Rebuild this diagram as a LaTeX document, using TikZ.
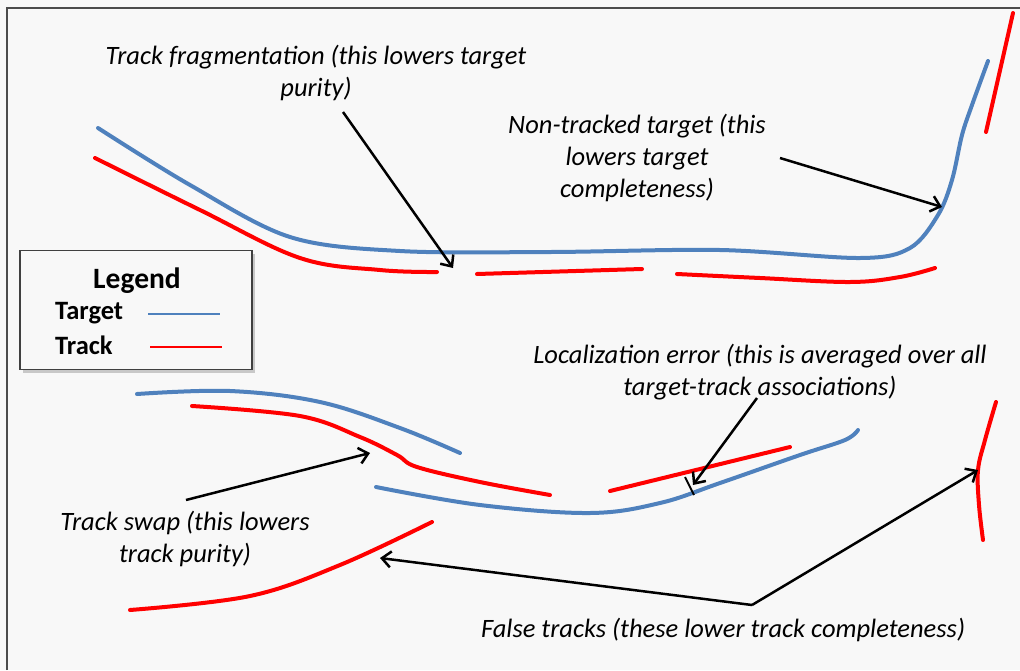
\documentclass[tikz,border=0pt]{standalone}
\usepackage{fontspec}
\setmainfont{Carlito}
\usepackage{tikz}
\usetikzlibrary{arrows.meta, positioning, shadows}
\definecolor{tgtblue}{HTML}{4F81BD}
\definecolor{trkred}{HTML}{FF0000}
\definecolor{paper}{HTML}{F8F8F8}
\tikzset{
  target/.style={draw=tgtblue, line width=4pt, line cap=round},
  track/.style={draw=trkred, line width=4pt, line cap=round},
  arrow/.style={-{Straight Barb[length=9pt, width=16pt]}, line width=2.5pt, black},
  note/.style={font=\fontsize{26.5}{32}\selectfont\itshape, align=center, inner sep=0pt},
  legendbox/.style={draw=black!75, line width=1.5pt, fill=paper,
                    drop shadow={shadow xshift=3pt, shadow yshift=-3pt, fill=black!40},
                    minimum width=232pt, minimum height=119pt},
}

\begin{document}
\begin{tikzpicture}[x=1pt, y=-1pt]

% ── 背景与边框 ────────────────────────────────────────────────────────────────
\fill[paper] (0,0) rectangle (1020,670);
\useasboundingbox (0,0) rectangle (1020,670);
\draw[black!70, line width=2pt] (7,670) -- (7,8) -- (1020,8);

% ── 上方：目标与轨迹 ──────────────────────────────────────────────────────────
\draw[target] plot[smooth, tension=0.55] coordinates {(98,128) (190,185) (290,237)
  (400,251) (550,252) (720,250) (860,258) (910,248) (938,215) (952,180)
  (962,135) (972,105) (988,61)};
\draw[track] plot[smooth, tension=0.6] coordinates {(95,158) (200,210) (300,258)
  (380,270) (437,272)};
\draw[track] (477,274) -- (642,269);
\draw[track] plot[smooth, tension=0.6] coordinates {(677,274) (760,278)
  (850,282) (900,277) (935,268)};
\draw[track] (1013,13) -- (986,132);

% ── 下方：目标与轨迹 ──────────────────────────────────────────────────────────
\draw[target] plot[smooth, tension=0.6] coordinates {(137,394) (230,391)
  (320,402) (400,428) (460,453)};
\draw[track] plot[smooth, tension=0.6] coordinates {(192,406) (300,416)
  (360,437) (397,455) (417,467) (480,482) (550,495)};
\draw[target] plot[smooth, tension=0.6] coordinates {(376,487) (480,505)
  (590,513) (660,503) (720,483) (800,455) (845,440) (858,430)};
\draw[track] (610,491) -- (790,447);
\draw[black, line width=2pt] (685,477) -- (694,495);
\draw[track] plot[smooth, tension=0.6] coordinates {(130,610) (250,596)
  (340,565) (432,522)};
\draw[track] plot[smooth, tension=0.6] coordinates {(996,402) (985,440)
  (978,470) (979,505) (983,540)};

% ── 说明文字 ──────────────────────────────────────────────────────────────────
\node[note] (frag) at (316,73) {Track fragmentation (this lowers target\\purity)};
\node[note] (miss) at (637,158) {Non-tracked target (this\\lowers target\\completeness)};
\node[note] (loc) at (760,372) {Localization error (this is averaged over all\\
  target-track associations)};
\node[note] (swap) at (185,539) {Track swap (this lowers\\track purity)};
\node[note] (false) at (723,630) {False tracks (these lower track completeness)};

% ── 箭头端点 ──────────────────────────────────────────────────────────────────
\coordinate (fragA) at (343,112);  \coordinate (fragB) at (453,268);
\coordinate (missA) at (780,158);  \coordinate (missB) at (942,207);
\coordinate (locA)  at (757,398);  \coordinate (locB)  at (693,485);
\coordinate (swapA) at (186,500);  \coordinate (swapB) at (370,453);
\coordinate (falseA) at (752,605);
\coordinate (falseB) at (380,558); \coordinate (falseC) at (978,470);

% ── 箭头 ──────────────────────────────────────────────────────────────────────
\draw[arrow] (fragA) -- (fragB);
\draw[arrow] (missA) -- (missB);
\draw[arrow] (locA) -- (locB);
\draw[arrow] (swapA) -- (swapB);
\draw[arrow] (falseA) -- (falseB);
\draw[arrow] (falseA) -- (falseC);

% ── 图例 ──────────────────────────────────────────────────────────────────────
\node[legendbox] (legend) at (136,310) {};
\node[font=\fontsize{29.5}{34}\selectfont\bfseries] (legtitle) at (137,281) {Legend};
\node[font=\fontsize{26.5}{30}\selectfont\bfseries, anchor=west, inner sep=0pt]
  (legtgt) at (55,313) {Target};
\node[font=\fontsize{26.5}{30}\selectfont\bfseries, anchor=west, inner sep=0pt]
  (legtrk) at (55,345) {Track};
\draw[draw=tgtblue, line width=2.5pt] (148,314) -- (220,314);
\draw[draw=trkred, line width=2.5pt] (150,347) -- (222,347);

\end{tikzpicture}
\end{document}
